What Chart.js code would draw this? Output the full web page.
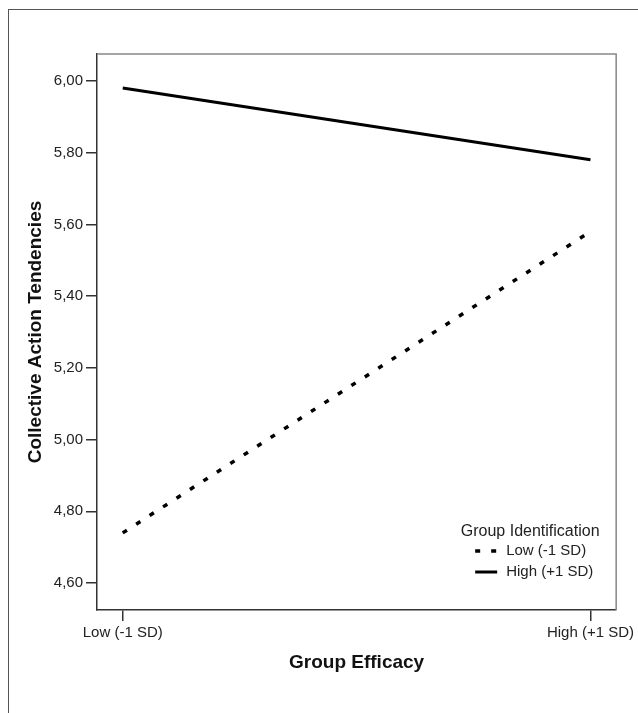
<!DOCTYPE html>
<html>
<head>
<meta charset="utf-8">
<script src="https://cdn.jsdelivr.net/npm/chart.js@4.4.1/dist/chart.umd.min.js"></script>
<style>
  html, body { margin: 0; padding: 0; background: #fff; overflow: hidden; }
  #wrap { position: relative; width: 638px; height: 713px; overflow: hidden; }
  #frame { position: absolute; left: 8px; top: 9px; width: 700px; height: 800px;
           border-top: 1px solid #555; border-left: 1px solid #555; pointer-events: none; }
  canvas { position: absolute; left: 0; top: 0; }
</style>
</head>
<body>
<div id="wrap">
  <div id="frame"></div>
  <canvas id="chart" width="638" height="713"></canvas>
</div>
<script>
// data
const categories = ['Low (-1 SD)', 'High (+1 SD)'];
const xPositions = [0, 1];
const lowIdentification = [4.74, 5.58];
const highIdentification = [5.98, 5.78];
const seriesLabels = ['Low (-1 SD)', 'High (+1 SD)'];
const legendTitle = 'Group Identification';
const yTicks = [4.6, 4.8, 5.0, 5.2, 5.4, 5.6, 5.8, 6.0];
const xTitle = 'Group Efficacy';
const yTitle = 'Collective Action Tendencies';

Chart.defaults.font.family = "Arial, 'Liberation Sans', sans-serif";
Chart.defaults.color = '#222';

const toPoints = values => values.map((v, i) => ({ x: xPositions[i], y: v }));
const formatTick = v => v.toFixed(2).replace('.', ',');

/**
 * Gray top/right edges of the plot box
 */
const plotFrame = {
    id: 'plotFrame',
    beforeDatasetsDraw(chart) {
        const { ctx, chartArea: a } = chart;
        ctx.save();
        ctx.strokeStyle = '#888';
        ctx.lineWidth = 1.5;
        ctx.beginPath();
        ctx.moveTo(a.left, a.top);
        ctx.lineTo(a.right, a.top);
        ctx.lineTo(a.right, a.bottom);
        ctx.stroke();
        ctx.restore();
    }
};

/**
 * Legend drawn inside the plot, lower right corner
 */
const insideLegend = {
    id: 'insideLegend',
    afterDraw(chart) {
        const { ctx, chartArea: a } = chart;
        ctx.save();
        ctx.fillStyle = '#222';
        ctx.textBaseline = 'middle';
        ctx.font = "16px Arial, 'Liberation Sans', sans-serif";
        ctx.textAlign = 'center';
        ctx.fillText(legendTitle, a.right - 86, a.bottom - 78);

        ctx.font = "15px Arial, 'Liberation Sans', sans-serif";
        ctx.textAlign = 'left';
        const rows = [a.bottom - 59, a.bottom - 38];
        chart.data.datasets.forEach((ds, i) => {
            const y = rows[i];
            ctx.strokeStyle = ds.borderColor;
            ctx.lineWidth = ds.borderWidth;
            ctx.setLineDash(ds.borderDash || []);
            ctx.beginPath();
            ctx.moveTo(a.right - 141, y);
            ctx.lineTo(a.right - 119, y);
            ctx.stroke();
            ctx.setLineDash([]);
            ctx.fillText(ds.label, a.right - 110, y);
        });
        ctx.restore();
    }
};

const ctx = document.getElementById('chart').getContext('2d');
new Chart(ctx, {
    type: 'line',
    data: {
        datasets: [
            {
                label: seriesLabels[0],
                data: toPoints(lowIdentification),
                borderColor: '#000',
                borderWidth: 3.5,
                borderDash: [5, 11],
                pointRadius: 0,
                fill: false
            },
            {
                label: seriesLabels[1],
                data: toPoints(highIdentification),
                borderColor: '#000',
                borderWidth: 3,
                pointRadius: 0,
                fill: false
            }
        ]
    },
    options: {
        responsive: false,
        animation: false,
        layout: {
            padding: { left: 0, top: 54, right: 20, bottom: 0 }
        },
        plugins: {
            legend: { display: false },
            tooltip: { enabled: false }
        },
        scales: {
            x: {
                type: 'linear',
                min: -0.055,
                max: 1.055,
                afterBuildTicks: scale => {
                    scale.ticks = xPositions.map(v => ({ value: v }));
                },
                afterFit: scale => { scale.height = 103; },
                grid: {
                    drawOnChartArea: false,
                    drawTicks: true,
                    tickLength: 11,
                    color: '#333',
                    lineWidth: 1.5
                },
                border: { color: '#333', width: 1.5 },
                ticks: {
                    padding: 3,
                    maxRotation: 0,
                    autoSkip: false,
                    color: '#222',
                    font: { size: 15 },
                    callback: value => categories[xPositions.indexOf(value)] ?? ''
                },
                title: {
                    display: true,
                    text: xTitle,
                    color: '#111',
                    font: { size: 19, weight: 'bold' },
                    padding: { top: 0, bottom: 39 }
                }
            },
            y: {
                min: 4.525,
                max: 6.075,
                afterBuildTicks: scale => {
                    scale.ticks = yTicks.map(v => ({ value: v }));
                },
                afterFit: scale => { scale.width = 97; },
                grid: {
                    drawOnChartArea: false,
                    drawTicks: true,
                    tickLength: 11,
                    color: '#333',
                    lineWidth: 1.5
                },
                border: { color: '#333', width: 1.5 },
                ticks: {
                    padding: 3,
                    color: '#222',
                    font: { size: 15 },
                    callback: value => formatTick(value)
                },
                title: {
                    display: true,
                    text: yTitle,
                    color: '#111',
                    font: { size: 19, weight: 'bold' },
                    padding: { top: 24, bottom: 0 }
                }
            }
        }
    },
    plugins: [plotFrame, insideLegend]
});
</script>
</body>
</html>
